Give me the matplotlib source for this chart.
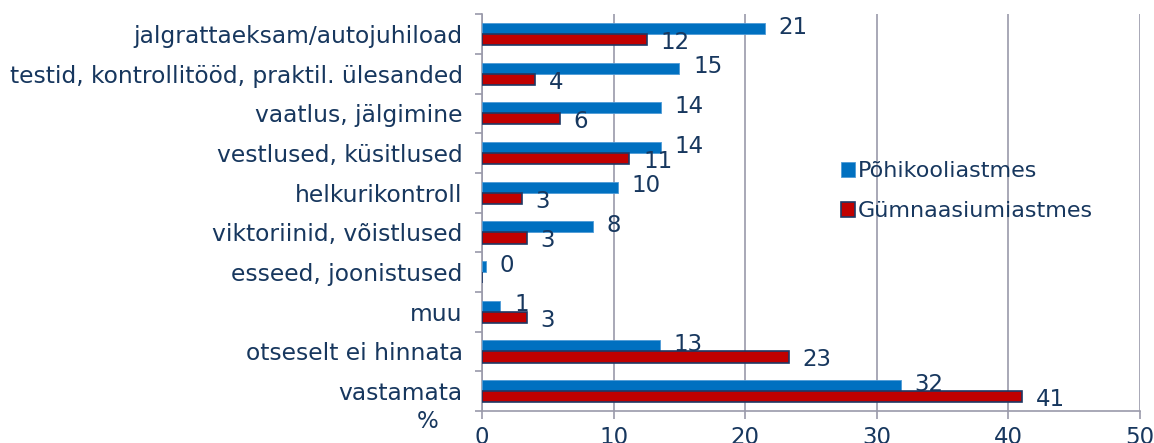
import matplotlib
matplotlib.use("Agg")
import matplotlib.pyplot as plt
import numpy as np

categories = ["jalgrattaeksam/autojuhiload",
              "testid, kontrollitööd, praktil. ülesanded",
              "vaatlus, jälgimine",
              "vestlused, küsitlused",
              "helkurikontroll",
              "viktoriinid, võistlused",
              "esseed, joonistused",
              "muu",
              "otseselt ei hinnata",
              "vastamata"]
pohikool = [21.5, 15.0, 13.6, 13.6, 10.3, 8.4, 0.3, 1.4, 13.5, 31.8]
gymnaasium = [12.5, 4.0, 5.9, 11.2, 3.0, 3.4, 0.0, 3.4, 23.3, 41.0]
pohikool_labels = [21, 15, 14, 14, 10, 8, 0, 1, 13, 32]
gymnaasium_labels = [12, 4, 6, 11, 3, 3, None, 3, 23, 41]
xticks = [0, 10, 20, 30, 40, 50]

navy = "#17375E"
blue = "#0070C0"
red = "#C00000"
gridc = "#9A9AAA"
fs = 16.5

fig = plt.figure(figsize=(11.54, 4.43), dpi=100)
ax = fig.add_axes([0.4177, 0.0722, 0.5702, 0.8958])

y = np.arange(len(categories))
h = 0.28
ax.barh(y - h / 2, pohikool, height=h, color=blue, edgecolor="#4F9BD6", linewidth=0.6,
        label="Põhikooliastmes", zorder=3)
ax.barh(y + h / 2, gymnaasium, height=h, color=red, edgecolor="#1F3864", linewidth=1.2,
        label="Gümnaasiumiastmes", zorder=3)

for i in range(len(categories)):
    ax.annotate(str(pohikool_labels[i]), (pohikool[i], y[i] - h / 2), xytext=(10, 1),
                textcoords="offset points", ha="left", va="center", fontsize=fs,
                color=navy, zorder=4)
    if gymnaasium_labels[i] is not None:
        ax.annotate(str(gymnaasium_labels[i]), (gymnaasium[i], y[i] + h / 2), xytext=(10, -2),
                    textcoords="offset points", ha="left", va="center", fontsize=fs,
                    color=navy, zorder=4)

ax.set_xlim(0, 50)
ax.set_ylim(len(categories) - 0.5, -0.5)
ax.set_xticks(xticks)
ax.set_xticklabels([str(t) for t in xticks], fontsize=fs, color=navy)
ax.set_yticks(y)
ax.set_yticklabels(categories, fontsize=16.8, color=navy)
ax.tick_params(axis="y", length=0, pad=14)
ax.set_yticks(np.arange(-0.5, len(categories), 1), minor=True)
ax.tick_params(axis="y", which="minor", length=5, color=gridc, width=1.2)
ax.tick_params(axis="x", length=6, color=gridc, width=1.2, pad=5)

ax.grid(axis="x", color=gridc, linewidth=1.2, zorder=0)
ax.spines["top"].set_visible(False)
ax.spines["right"].set_visible(False)
ax.spines["left"].set_color(gridc)
ax.spines["bottom"].set_color(gridc)
ax.spines["left"].set_linewidth(1.2)
ax.spines["bottom"].set_linewidth(1.2)

leg = ax.legend(loc="upper left", bbox_to_anchor=(0.515, 0.68), frameon=False, fontsize=16,
                handlelength=0.65, handleheight=0.65, handletextpad=0.1, labelspacing=0.9)
for t in leg.get_texts():
    t.set_color(navy)

fig.text(428 / 1154, 1 - 422 / 443, "%", fontsize=fs, color=navy, ha="center", va="center")

fig.savefig("out.png", dpi=100)
